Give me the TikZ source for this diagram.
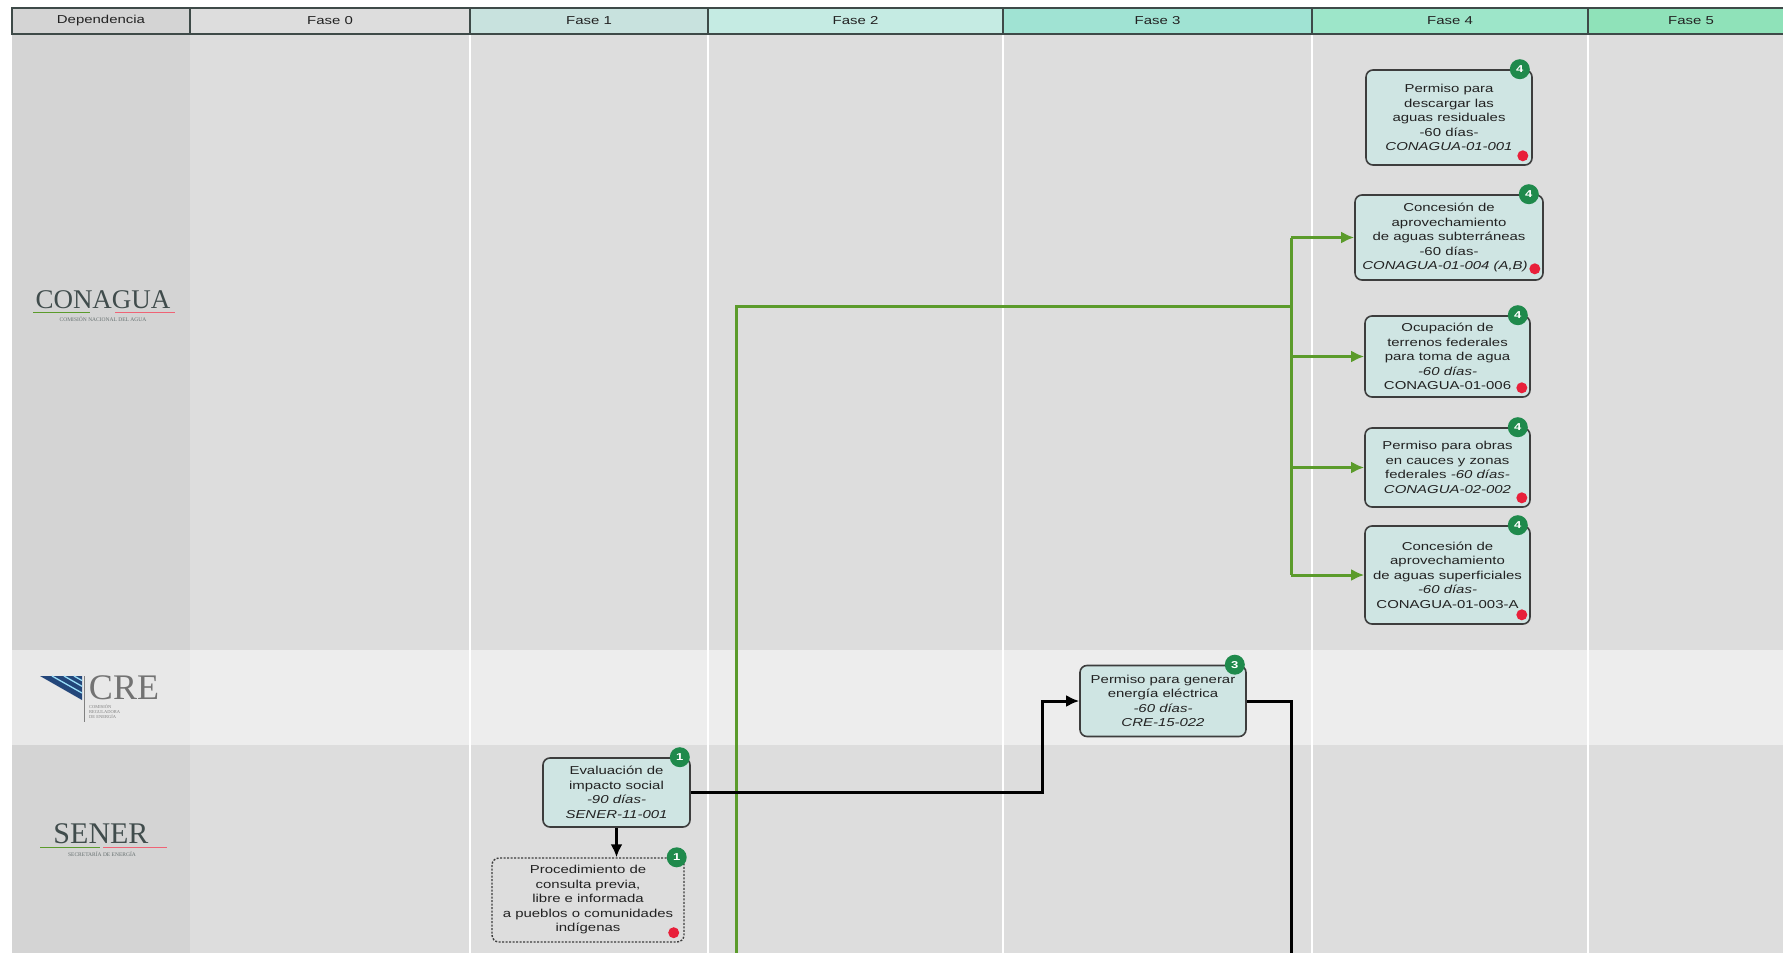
\documentclass[tikz,border=0pt]{standalone}
\usepackage{fontspec}
\setmainfont{Liberation Sans}
\newfontfamily\boxfont{Liberation Sans}[FakeStretch=1.3]
\newfontfamily\logofont{Liberation Serif}
\usetikzlibrary{arrows.meta}

\definecolor{fondo}{HTML}{DDDDDD}
\definecolor{fondodep}{HTML}{D4D4D4}
\definecolor{fondocre}{HTML}{EDEDED}
\definecolor{fondocredep}{HTML}{E8E8E8}
\definecolor{cabecera}{HTML}{3E4A48}
\definecolor{texto}{HTML}{222222}
\definecolor{borde}{HTML}{3D3D3D}
\definecolor{caja}{HTML}{CFE5E3}
\definecolor{insignia}{HTML}{1F8A4C}
\definecolor{rojo}{HTML}{E8203A}
\definecolor{agua}{HTML}{5B9B2B}
\definecolor{logo}{HTML}{404C4C}
\definecolor{azul}{HTML}{23467A}

\tikzset{celda/.style = {shape=rectangle,draw=cabecera,line width=1.5pt,minimum height=26pt,inner sep=0pt,text=texto,font=\boxfont\fontsize{11.5}{12}\selectfont}}
\tikzset{tramite/.style = {shape=rectangle,rounded corners=7pt,draw=borde,fill=caja,line width=1.6pt,align=center,inner sep=2pt,text=texto,font=\boxfont\fontsize{11.5}{14.5}\selectfont}}
\tikzset{previo/.style = {tramite,fill=fondo,line width=1.4pt,dash pattern=on 2pt off 1.5pt}}
\tikzset{fase/.style = {shape=circle,fill=insignia,text=white,minimum size=20pt,inner sep=0pt,font=\boxfont\bfseries\fontsize{10}{10}\selectfont}}
\tikzset{alerta/.style = {shape=circle,fill=rojo,minimum size=11pt,inner sep=0pt}}
\tikzset{flujo/.style = {-{Latex[length=13pt,width=12pt]},line width=3pt,draw=black}}
\tikzset{linea/.style = {line width=3pt,draw=black}}
\tikzset{flujoverde/.style = {-{Latex[length=13pt,width=12pt]},line width=3pt,draw=agua}}
\tikzset{lineaverde/.style = {line width=3pt,draw=agua}}

\begin{document}
\begin{tikzpicture}[x=1pt,y=-1pt]
		\useasboundingbox (0,0) rectangle (1783,953);
		
		% background
		\fill[white] (0,0) rectangle (1783,953);
		\fill[fondo] (190,34) rectangle (1783,953);
		\fill[fondodep] (12,34) rectangle (190,953);
		\fill[fondocre] (190,650) rectangle (1783,745);
		\fill[fondocredep] (12,650) rectangle (190,745);
		\draw[white,line width=2pt] (470,34) -- (470,953) (708,34) -- (708,953) (1003,34) -- (1003,953)
			(1312,34) -- (1312,953) (1588,34) -- (1588,953);
		
		% header
		\node[celda,fill=fondodep,minimum width=178pt] (hdep) at (101,21) {Dependencia};
		\node[celda,fill=fondo,minimum width=280pt] (h0) at (330,21) {Fase 0};
		\node[celda,fill={rgb,255:red,200;green,226;blue,222},minimum width=238pt] (h1) at (589,21) {Fase 1};
		\node[celda,fill={rgb,255:red,197;green,235;blue,227},minimum width=295pt] (h2) at (855.5,21) {Fase 2};
		\node[celda,fill={rgb,255:red,160;green,227;blue,211},minimum width=309pt] (h3) at (1157.5,21) {Fase 3};
		\node[celda,fill={rgb,255:red,157;green,230;blue,201},minimum width=276pt] (h4) at (1450,21) {Fase 4};
		\node[celda,fill={rgb,255:red,143;green,226;blue,185},minimum width=206pt] (h5) at (1691,21) {Fase 5};
		
		% logos
		\node[text=logo,font=\logofont\fontsize{27}{27}\selectfont,inner sep=0pt] (conagua) at (103,300) {CONAGUA};
		\draw[agua,line width=1pt] (33,312) -- (90,312);
		\draw[rojo!70,line width=1pt] (115,312) -- (175,312);
		\node[text=logo!80,font=\logofont\fontsize{5.5}{6}\selectfont,inner sep=0pt] (conaguasub) at (103,319) {COMISIÓN NACIONAL DEL AGUA};
		
		\fill[azul] (40,676) -- (82,676) -- (82,700) -- cycle;
		\draw[cyan!40,line width=1.3pt] (52,676) -- (82,693) (64,676) -- (82,686.3) (74,676) -- (82,680.6);
		\draw[gray,line width=1pt] (84,676) -- (84,722);
		\node[text=gray!90!black,font=\logofont\fontsize{36}{36}\selectfont,inner sep=0pt] (cre) at (124,688) {CRE};
		\node[text=gray,font=\logofont\fontsize{4.5}{5}\selectfont,align=left,inner sep=0pt,anchor=north west] (cresub) at (89,704) {COMISIÓN\\REGULADORA\\DE ENERGÍA};
		
		\node[text=logo,font=\logofont\fontsize{30}{30}\selectfont,inner sep=0pt] (sener) at (101,834) {SENER};
		\draw[agua,line width=1pt] (40,847) -- (100,847);
		\draw[rojo!70,line width=1pt] (103,847) -- (167,847);
		\node[text=logo!80,font=\logofont\fontsize{5.5}{6}\selectfont,inner sep=0pt] (senersub) at (102,854) {SECRETARÍA DE ENERGÍA};
		
		% tramites
		\node[tramite,minimum width=166pt,minimum height=95pt] (residuales) at (1449,117.5) {Permiso para\\descargar las\\aguas residuales\\-60 días-\\\textit{CONAGUA-01-001}};
		\node[tramite,minimum width=188pt,minimum height=85pt] (subterraneas) at (1449,237.5) {Concesión de\\aprovechamiento\\de aguas subterráneas\\-60 días-\\\textit{CONAGUA-01-004 (A,B)}\hspace*{8pt}};
		\node[tramite,minimum width=165pt,minimum height=81pt] (terrenos) at (1447.5,356.5) {Ocupación de\\terrenos federales\\para toma de agua\\\textit{-60 días-}\\CONAGUA-01-006};
		\node[tramite,minimum width=165pt,minimum height=79pt] (cauces) at (1447.5,467.5) {Permiso para obras\\en cauces y zonas\\federales \textit{-60 días-}\\\textit{CONAGUA-02-002}};
		\node[tramite,minimum width=165pt,minimum height=98pt] (superficiales) at (1447.5,575) {Concesión de\\aprovechamiento\\de aguas superficiales\\\textit{-60 días-}\\CONAGUA-01-003-A};
		\node[tramite,minimum width=166pt,minimum height=71pt] (energia) at (1163,701) {Permiso para generar\\energía eléctrica\\\textit{-60 días-}\\\textit{CRE-15-022}};
		\node[tramite,minimum width=147pt,minimum height=69pt] (impacto) at (616.5,792.5) {Evaluación de\\impacto social\\\textit{-90 días-}\\\textit{SENER-11-001}};
		\node[previo,minimum width=192pt,minimum height=84pt] (consulta) at (588,900) {Procedimiento de\\consulta previa,\\libre e informada\\a pueblos o comunidades\\indígenas};
		
		% fases
		\node[fase] (fresiduales) at ([xshift=-13pt]residuales.north east) {4};
		\node[fase] (fsubterraneas) at ([xshift=-15pt]subterraneas.north east) {4};
		\node[fase] (fterrenos) at ([xshift=-13pt]terrenos.north east) {4};
		\node[fase] (fcauces) at ([xshift=-13pt]cauces.north east) {4};
		\node[fase] (fsuperficiales) at ([xshift=-13pt]superficiales.north east) {4};
		\node[fase] (fenergia) at ([xshift=-12pt]energia.north east) {3};
		\node[fase] (fimpacto) at ([xshift=-11pt]impacto.north east) {1};
		\node[fase] (fconsulta) at ([xshift=-8pt]consulta.north east) {1};
		
		% alertas
		\node[alerta] (aresiduales) at ([xshift=-10pt,yshift=10pt]residuales.south east) {};
		\node[alerta] (asubterraneas) at ([xshift=-9pt,yshift=12pt]subterraneas.south east) {};
		\node[alerta] (aterrenos) at ([xshift=-9pt,yshift=10pt]terrenos.south east) {};
		\node[alerta] (acauces) at ([xshift=-9pt,yshift=10pt]cauces.south east) {};
		\node[alerta] (asuperficiales) at ([xshift=-9pt,yshift=10pt]superficiales.south east) {};
		\node[alerta] (aconsulta) at ([xshift=-11pt,yshift=10pt]consulta.south east) {};
		
		%edges
		\coordinate (gorigen) at (736,953);
		\coordinate (gnodo) at (1291,306);
		\coordinate (codo) at (1042,0);
		\coordinate (crefin) at (1291,953);
		\draw[lineaverde] (gorigen) |- (gnodo);
		\draw[lineaverde] (gnodo |- subterraneas.west) -- (gnodo |- superficiales.west);
		\draw[flujoverde] (gnodo |- subterraneas.west) -- (subterraneas.west);
		\draw[flujoverde] (gnodo |- terrenos.west) -- (terrenos.west);
		\draw[flujoverde] (gnodo |- cauces.west) -- (cauces.west);
		\draw[flujoverde] (gnodo |- superficiales.west) -- (superficiales.west);
		\draw[flujo] (impacto.east) -- (impacto.east -| codo) |- (energia.west);
		\draw[linea] (energia.east) -| (crefin);
		\draw[flujo] (impacto.south) -- (impacto.south |- consulta.north);
	\end{tikzpicture}
\end{document}
